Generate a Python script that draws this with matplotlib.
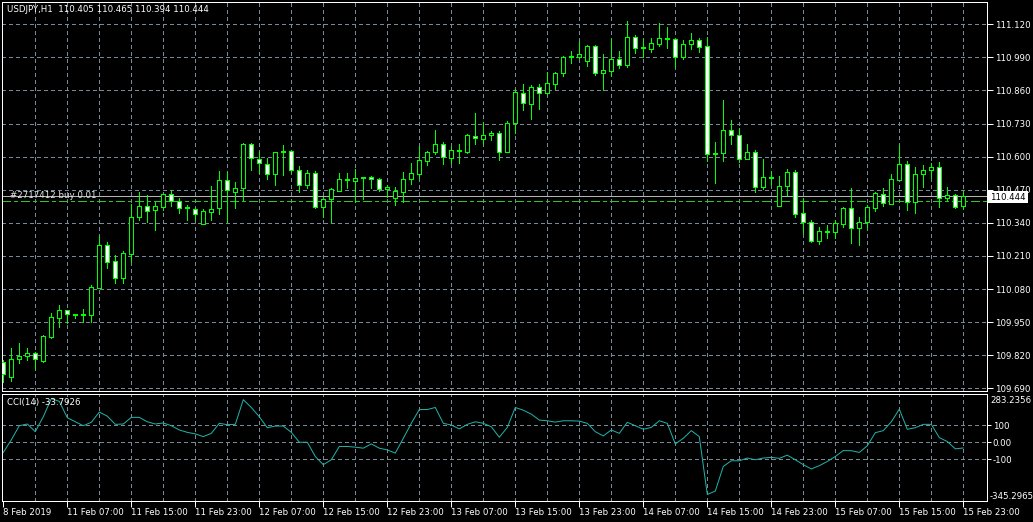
import matplotlib
matplotlib.use("Agg")
import matplotlib.pyplot as plt
from matplotlib.patches import Rectangle

# ---------------- data ----------------
header = "USDJPY,H1  110.405 110.465 110.394 110.444"
opens = [109.795, 109.736, 109.804, 109.815, 109.827, 109.798, 109.891, 109.967, 109.996, 109.980,
         109.978, 109.979, 110.085, 110.253, 110.190, 110.122, 110.219, 110.363, 110.406, 110.392,
         110.404, 110.452, 110.427, 110.398, 110.393, 110.337, 110.384, 110.397, 110.507, 110.462,
         110.478, 110.648, 110.590, 110.573, 110.531, 110.617, 110.621, 110.546, 110.487, 110.535,
         110.404, 110.432, 110.466, 110.507, 110.506, 110.516, 110.519, 110.511, 110.472, 110.439,
         110.462, 110.511, 110.533, 110.584, 110.617, 110.648, 110.596, 110.622, 110.620, 110.683,
         110.671, 110.684, 110.692, 110.620, 110.731, 110.852, 110.808, 110.872, 110.852, 110.887,
         110.930, 110.990, 110.993, 110.977, 111.035, 110.930, 110.938, 110.984, 110.962, 111.070,
         111.026, 111.022, 111.044, 111.062, 111.061, 110.993, 111.041, 111.057, 111.034, 110.612,
         110.616, 110.704, 110.684, 110.590, 110.618, 110.482, 110.517, 110.407, 110.486, 110.538,
         110.377, 110.342, 110.270, 110.305, 110.303, 110.337, 110.397, 110.318, 110.345, 110.397,
         110.455, 110.415, 110.510, 110.570, 110.423, 110.531, 110.546, 110.558, 110.436, 110.448,
         110.405]
highs = [109.800, 109.847, 109.867, 109.847, 109.831, 109.899, 109.984, 110.017, 109.998, 109.983,
         110.001, 110.096, 110.288, 110.263, 110.214, 110.229, 110.413, 110.460, 110.449, 110.423,
         110.456, 110.469, 110.436, 110.410, 110.400, 110.393, 110.485, 110.544, 110.541, 110.499,
         110.655, 110.652, 110.617, 110.593, 110.620, 110.646, 110.626, 110.563, 110.548, 110.544,
         110.443, 110.476, 110.535, 110.535, 110.552, 110.521, 110.524, 110.518, 110.489, 110.482,
         110.538, 110.574, 110.642, 110.622, 110.705, 110.659, 110.639, 110.648, 110.689, 110.770,
         110.735, 110.702, 110.701, 110.740, 110.866, 110.886, 110.882, 110.886, 110.931, 110.931,
         110.996, 111.015, 111.055, 111.039, 111.039, 111.003, 111.061, 111.015, 111.131, 111.078,
         111.062, 111.065, 111.125, 111.108, 111.065, 111.058, 111.085, 111.065, 111.069, 110.656,
         110.823, 110.744, 110.711, 110.650, 110.626, 110.591, 110.545, 110.524, 110.552, 110.548,
         110.439, 110.351, 110.322, 110.331, 110.351, 110.404, 110.476, 110.363, 110.410, 110.462,
         110.476, 110.531, 110.646, 110.583, 110.559, 110.567, 110.574, 110.580, 110.482, 110.452,
         110.465]
lows = [109.716, 109.720, 109.788, 109.801, 109.766, 109.795, 109.886, 109.932, 109.945, 109.967,
        109.952, 109.952, 110.083, 110.164, 110.105, 110.105, 110.187, 110.351, 110.342, 110.312,
        110.390, 110.407, 110.379, 110.351, 110.351, 110.335, 110.351, 110.375, 110.342, 110.400,
        110.430, 110.548, 110.537, 110.512, 110.489, 110.528, 110.538, 110.462, 110.476, 110.397,
        110.363, 110.345, 110.466, 110.476, 110.423, 110.434, 110.476, 110.466, 110.443, 110.410,
        110.423, 110.493, 110.515, 110.567, 110.609, 110.573, 110.574, 110.575, 110.616, 110.650,
        110.651, 110.666, 110.587, 110.620, 110.694, 110.783, 110.748, 110.787, 110.846, 110.866,
        110.917, 110.969, 110.986, 110.956, 110.921, 110.861, 110.918, 110.950, 110.952, 111.009,
        110.993, 111.013, 111.036, 111.028, 110.954, 110.985, 111.024, 111.010, 110.584, 110.498,
        110.584, 110.651, 110.580, 110.590, 110.462, 110.473, 110.489, 110.407, 110.449, 110.364,
        110.301, 110.266, 110.257, 110.282, 110.282, 110.324, 110.262, 110.254, 110.318, 110.388,
        110.407, 110.413, 110.510, 110.390, 110.380, 110.482, 110.515, 110.404, 110.430, 110.400,
        110.394]
closes = [109.745, 109.804, 109.815, 109.827, 109.804, 109.895, 109.969, 109.996, 109.980, 109.978,
          109.979, 110.087, 110.253, 110.187, 110.122, 110.220, 110.362, 110.406, 110.388, 110.406,
          110.452, 110.427, 110.397, 110.401, 110.373, 110.385, 110.393, 110.507, 110.468, 110.476,
          110.648, 110.593, 110.574, 110.531, 110.618, 110.618, 110.546, 110.487, 110.535, 110.404,
          110.432, 110.472, 110.511, 110.508, 110.515, 110.518, 110.511, 110.472, 110.480, 110.464,
          110.511, 110.535, 110.586, 110.618, 110.648, 110.597, 110.625, 110.624, 110.684, 110.672,
          110.684, 110.692, 110.620, 110.731, 110.854, 110.810, 110.872, 110.852, 110.888, 110.929,
          110.990, 110.992, 111.002, 111.035, 110.930, 110.941, 110.984, 110.962, 111.070, 111.026,
          111.027, 111.045, 111.066, 111.064, 110.993, 111.041, 111.057, 111.032, 110.609, 110.610,
          110.704, 110.684, 110.590, 110.618, 110.482, 110.519, 110.519, 110.483, 110.538, 110.376,
          110.342, 110.270, 110.307, 110.307, 110.338, 110.397, 110.318, 110.345, 110.401, 110.456,
          110.417, 110.511, 110.570, 110.421, 110.531, 110.546, 110.558, 110.436, 110.448, 110.404,
          110.444]
cci = [-60, 14, 97, 107, 62, 150, 256, 240, 144, 120,
       97, 117, 177, 153, 105, 107, 146, 146, 120, 107,
       113, 97, 72, 58, 49, 33, 52, 111, 103, 105,
       250, 204, 150, 85, 95, 95, 58, 0, 0, -84,
       -132, -103, -25, -25, -29, -35, -10, -35, -45, -64,
       23, 111, 192, 192, 204, 111, 101, 78, 105, 120,
       111, 91, 29, 87, 204, 188, 165, 130, 126, 118,
       126, 126, 124, 111, 62, 37, 72, 52, 117, 97,
       76, 87, 126, 111, -10, 23, 68, 33, -307, -287,
       -142, -109, -109, -93, -103, -93, -89, -95, -76, -103,
       -132, -157, -138, -113, -84, -49, -50, -60, -21, 56,
       68, 120, 194, 76, 85, 105, 105, 27, 4, -39,
       -33.7926]
cci_label = "CCI(14) -33.7926"
cci_max = 283.2356
cci_min = -345.2965
cci_levels = [100, 0, -100]
cci_level_labels = ["100", "0.00", "-100"]
price_ticks = [111.120, 110.990, 110.860, 110.730, 110.600, 110.470,
               110.340, 110.210, 110.080, 109.950, 109.820, 109.690]
price_tick_labels = ["111.120", "110.990", "110.860", "110.730", "110.600", "110.470",
                     "110.340", "110.210", "110.080", "109.950", "109.820", "109.690"]
time_labels = ["8 Feb 2019", "11 Feb 07:00", "11 Feb 15:00", "11 Feb 23:00", "12 Feb 07:00",
               "12 Feb 15:00", "12 Feb 23:00", "13 Feb 07:00", "13 Feb 15:00", "13 Feb 23:00",
               "14 Feb 07:00", "14 Feb 15:00", "14 Feb 23:00", "15 Feb 07:00", "15 Feb 15:00",
               "15 Feb 23:00"]
bid_price = 110.444
bid_label = "110.444"
order_price = 110.425
order_label = "#2717412 buy 0.01"

# ---------------- style ----------------
W, H, DPI = 1033, 522, 100
PX = 72.0 / DPI
BG = "black"
FG = "white"
GRID = "#778899"
CANDLE = "#00FF00"
CCI_COLOR = "#20B2AA"
FS = 6.2
plt.rcParams['font.family'] = ['DejaVu Sans']

fig = plt.figure(figsize=(W / DPI, H / DPI), dpi=DPI, facecolor=BG)


def px_axes(x0, y0, x1, y1):
    return fig.add_axes([x0 / W, 1 - y1 / H, (x1 - x0) / W, (y1 - y0) / H], facecolor=BG)


ax = px_axes(2, 2, 987, 391)
ax2 = px_axes(2, 394, 987, 501)

n = len(opens)
xmin, xmax = -0.1625, 122.9625
for a in (ax, ax2):
    a.set_xlim(xmin, xmax)
    for s in a.spines.values():
        s.set_color(FG)
        s.set_linewidth(PX)
    for k in range(4, n, 4):
        a.axvline(k, color=GRID, lw=PX, dashes=(3, 3), zorder=1, antialiased=False)

ax.set_ylim(109.6794, 111.2076)
ax2.set_ylim(cci_min, cci_max)

for p in price_ticks:
    ax.axhline(p, color=GRID, lw=PX, dashes=(3, 3), zorder=1, antialiased=False)
for lv in cci_levels:
    ax2.axhline(lv, color=GRID, lw=PX, dashes=(3, 3), zorder=1, antialiased=False)

# bid & order lines
ax.axhline(bid_price, color="#B4B4B4", lw=PX, zorder=2, antialiased=False)
ax.axhline(order_price, color="#22CC22", lw=PX, dashes=(9, 4, 3, 4), zorder=2, antialiased=False)

# candles
w = 0.5
for i in range(n):
    o, h, l, c = opens[i], highs[i], lows[i], closes[i]
    ax.plot([i, i], [l, h], color=CANDLE, lw=PX, zorder=3, solid_capstyle='butt',
            antialiased=False)
    bottom = min(o, c)
    height = max(abs(c - o), 0.004)
    face = "white" if c < o else "black"
    ax.add_patch(Rectangle((i - w / 2, bottom), w, height, facecolor=face,
                           edgecolor=CANDLE, lw=PX, zorder=4, antialiased=False))

# CCI line
ax2.plot(range(n), cci, color=CCI_COLOR, lw=PX, zorder=3)

# axes ticks
ax.set_xticks([])
ax.yaxis.tick_right()
ax.set_yticks(price_ticks)
ax.set_yticklabels(price_tick_labels)
ax.tick_params(axis='y', colors=FG, length=4, width=PX, labelsize=FS, pad=2, direction='out')

ax2.yaxis.tick_right()
ax2.set_yticks(cci_levels)
ax2.set_yticklabels(cci_level_labels)
ax2.tick_params(axis='y', colors=FG, length=3, width=PX, labelsize=FS, pad=1, direction='out')
ax2.set_xticks(list(range(0, n, 8)))
ax2.set_xticklabels(time_labels)
ax2.tick_params(axis='x', colors=FG, length=4, width=PX, labelsize=FS, pad=1, direction='out')
for lbl in ax2.get_xticklabels():
    lbl.set_horizontalalignment('left')

fig.text(990 / W, 1 - 396 / H, f"{cci_max:.4f}", color=FG, fontsize=FS, va='top', ha='left')
fig.text(990 / W, 1 - 501 / H, f"{cci_min:.4f}", color=FG, fontsize=FS, va='bottom', ha='left')

# texts
fig.text(7 / W, 1 - 10 / H, header, color=FG, fontsize=FS, va='center', ha='left')
fig.text(7 / W, 1 - 403 / H, cci_label, color=FG, fontsize=FS, va='center', ha='left')
fig.text(10 / W, 1 - 195.5 / H, order_label, color="#E6E6E6", fontsize=FS, va='center', ha='left')

# bid price box (covers part of the 110.470 scale label, as in the terminal)
box = Rectangle((988 / W, 1 - 203 / H), 40 / W, 12 / H, transform=fig.transFigure,
                facecolor="white", edgecolor="none", zorder=5)
fig.add_artist(box)
fig.text(990 / W, 1 - 197 / H, bid_label, color="black", fontsize=FS, va='center', ha='left', zorder=6)

fig.savefig("out.png", dpi=DPI, facecolor=BG)
